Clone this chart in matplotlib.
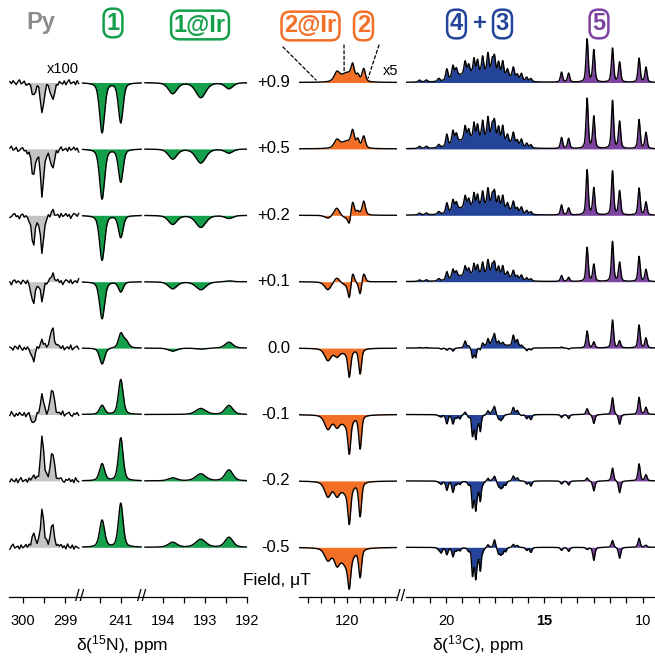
import numpy as np
import matplotlib
matplotlib.use('Agg')
import matplotlib.pyplot as plt

plt.rcParams['font.family'] = ['Liberation Sans', 'DejaVu Sans']
plt.rcParams['mathtext.fontset'] = 'custom'
plt.rcParams['mathtext.rm'] = 'Liberation Sans'

W, H = 655, 658

fields = ['+0.9', '+0.5', '+0.2', '+0.1', '0.0', '-0.1', '-0.2', '-0.5']

# ---- 15N: free pyridine (x100) ----
py_ppm = [299.75, 299.54, 299.30]
py_w = [0.10, 0.09, 0.10]
py_amp = [[-12, -31, -18],
          [-27, -47, -20],
          [-30, -37, 4],
          [-22, -18, 8],
          [-13, 8, 21],
          [-10, 19, 26],
          [3, 43, 29],
          [12, 38, 22]]
py_noise = [1, -1, 2, 0, -2, 1, 3, -1, 0, 2, -2, -1, 1, 2, -1, 0, -3, 1, 2, -1,
            1, 0, -2, 2, 1, -1, 3, 0, -2, 1, -1, 2, 0, -1, 2, -2, 1, 3, -1, 0,
            1, -2, 2, -1, 0, 2, -1, 1, -3, 0, 2, 1, -1, 2, -2, 0, 1, -1, 3, -2,
            0, 1, 2, -1, -2, 1, 0, 2, -1, 1, -2, 3, 0, -1, 2, -2, 1, 0, -1, 2]

# ---- 15N: 1 and 1@Ir ----
n1_ppm = [241.44, 241.00, 240.88, 193.77, 193.10, 192.43]
n1_w = [0.14, 0.13, 0.15, 0.24, 0.28, 0.22]
n1_amp = [[-50, -40, 0, -11, -15, -6],
          [-50, -33, 0, -10, -14, -4],
          [-45, -22, 0, -9, -12, -3],
          [-37, -10, 0, -7, -8, 1],
          [-16, 14, 7, -3, -1, 6],
          [9, 35, 0, 0, 6, 9],
          [17, 43, 0, 3, 7, 11],
          [27, 44, 0, 5, 8, 10]]

# ---- 13C: 2 / 2@Ir (x5) ----
c2_ppm = [120.73, 120.38, 120.00, 119.90, 119.77, 119.57, 119.48, 119.34]
c2_w = [0.30, 0.25, 0.50, 0.13, 0.15, 0.14, 0.13, 0.15]
c2_amp = [[0, 9, 9, 0, 14, 6, 0, 13],
          [0, 8, 7, 0, 15, 8, 0, 12],
          [-3, 8, -3, -8, 15, 4, 0, 14],
          [-8, 5, -3, -15, 11, 0, -13, 9],
          [-12, -7, -4, -25, 0, 0, -25, 0],
          [-14, -10, -9, -31, 0, 0, -33, 0],
          [-15, -12, -11, -33, 0, 0, -34, 0],
          [-12, -14, -17, -26, 0, 0, -28, 0]]

# ---- 13C: 4 + 3 (aliphatic multiplets) ----
c43_ppm = [21.35, 21.00, 20.37, 20.25, 19.96, 19.65, 19.48, 19.30, 19.03, 18.85,
           18.66, 18.58, 18.49, 18.40, 18.26, 18.14, 17.87, 17.65, 17.54, 17.33,
           17.22, 17.12, 16.97, 16.88, 16.58, 16.38, 16.17, 15.90, 15.69,
           19.3, 18.5, 17.7, 16.9]
c43_w = [0.15, 0.15, 0.15, 0.13, 0.13, 0.13, 0.13, 0.13, 0.13, 0.13,
         0.10, 0.11, 0.10, 0.11, 0.11, 0.12, 0.12, 0.12, 0.12, 0.12,
         0.12, 0.12, 0.12, 0.12, 0.13, 0.13, 0.13, 0.13, 0.13,
         1.0, 1.0, 1.0, 1.0]
c43_pos = [2, 2, 3, 0, 11, 12, 8, 0, 13, 9,
           0, 14, 0, 12, 0, 16, 19, 12, 16, 12,
           0, 14, 0, 7, 11, 5, 7, 4, 3,
           5, 7, 7, 4]
c43_scale = [1.0, 1.08, 0.92, 0.74]
c43_mix = [[0.5, 0.5, 0, -1, -2, -3, 0, 0, 7, 2, -9, -4, -9, 0, -3, 4, 7, 5, 11, 4,
            0, 3, 0, 0, 11, 7, 2, -3, -2, 0, 0, 2, 2],
           [0, 0, -1, -2, -9, -9, -3, -4, 3, -2, -19, -7, -21, -7, -16, 0, 4, 3, 8, -4,
            -5, -3, 0, 0, 7, 4, -1, -4, -5, 0, 0, 0, 0],
           [0, 0, -1, -3, -9, -11, -3, -3, 0, -3, -23, -9, -25, -9, -19, -2, 3, 1, 5, -5,
            -6, -5, -4, 0, 5, 3, 0, -3, -5, 0, 0, 0, 0],
           [0, 0, -2, -5, -7, -9, -3, -3, 0, -3, -25, -9, -27, -9, -22, -3, 3, 0, 8, -6,
            -6, -5, -4, 0, 3, 2, 0, -3, -5, 0, 0, 0, 0]]

# ---- 13C: 5 ----
c5_ppm = [14.13, 13.77, 12.83, 12.49, 11.54, 11.18, 10.19, 9.84]
c5_w = [0.13] * 8
c5_amp = [[10, 9, 43, 32, 34, 20, 24, 15],
          [11, 10, 50, 32, 48, 27, 29, 16],
          [10, 7, 45, 27, 44, 24, 27, 13],
          [6, 4, 34, 17, 40, 19, 25, 12],
          [1, -1, 17, 6, 28, 7, 23, 10],
          [-3, -4, 6, -9, 17, -10, 17, 7],
          [-3, -4, 3, -10, 13, -12, 17, 6],
          [-3, -4, -2, -13, 7, -11, 9, 2]]

GRAY = '#c4c4c4'
GREEN = '#14a04a'
ORANGE = '#f36f26'
BLUE = '#24449a'
PURPLE = '#7c43a0'


def lineshape(x, pos, fwhm, amp, eta=0.5):
    y = np.zeros_like(x)
    for c, w, a in zip(pos, fwhm, amp):
        d = (x - c) / (w / 2)
        y += a * (eta / (1 + d ** 2) + (1 - eta) * np.exp(-np.log(2) * d ** 2))
    return y


fig = plt.figure(figsize=(W / 100, H / 100), dpi=100)
TOP, AXIS_Y = 20, 596.5
ROW0, GAP = 82.5, 66.4


def panel(x0, x1, xlim, major, minor, labels=None):
    ax = fig.add_axes([x0 / W, 1 - AXIS_Y / H, (x1 - x0) / W, (AXIS_Y - TOP) / H])
    ax.set_xlim(*xlim)
    ax.set_ylim(AXIS_Y, TOP)
    ax.patch.set_visible(False)
    for s in ['top', 'left', 'right']:
        ax.spines[s].set_visible(False)
    ax.spines['bottom'].set_linewidth(0.9)
    ax.set_yticks([])
    ax.set_xticks(major, labels if labels else [str(m) for m in major])
    ax.set_xticks(minor, minor=True)
    ax.tick_params(axis='x', which='both', direction='out', length=4.5, width=0.9,
                   pad=8, labelsize=10.5)
    return ax


def draw(ax, x, sig, base, color, where=None):
    yy = base - sig
    ax.fill_between(x, base, yy, where=where, color=color, lw=0, interpolate=True)
    ax.plot(x, yy, color='k', lw=1.0)


ax_py = panel(9, 80, (300.32, 298.65), [300, 299], [299.5])
ax_n1 = panel(80, 142, (241.96, 240.50), [241], [241.5])
ax_ir = panel(142, 247, (194.5, 192.0), [194, 193, 192], [193.5, 192.5])
ax_c2 = panel(299, 397, (121.85, 118.05), [120], [121.5, 121, 120.5, 119.5, 119, 118.5])
c_minor = [21.667, 20.833] + list(np.linspace(20, 15, 7)[1:-1]) + list(np.linspace(15, 10, 7)[1:-1])
ax_c = panel(405.7, 655, (22.05, 9.38), [20, 15, 10], c_minor)
ax_c.get_xticklabels()[1].set_fontweight('bold')

x_py = np.linspace(300.30, 298.68, 44)
x_n1 = np.linspace(241.90, 240.52, 400)
x_ir = np.linspace(194.43, 192.0, 600)
x_c2 = np.linspace(121.85, 118.05, 800)
x_c = np.linspace(22.0, 9.38, 2500)

for i, f in enumerate(fields):
    base = ROW0 + GAP * i
    s = lineshape(x_py, py_ppm, py_w, py_amp[i]) + np.array(py_noise[5 * i:5 * i + 44])
    draw(ax_py, x_py, s, base, GRAY, where=(x_py < 299.95) & (x_py > 299.12))
    draw(ax_n1, x_n1, lineshape(x_n1, n1_ppm, n1_w, n1_amp[i], eta=0.4), base, GREEN)
    draw(ax_ir, x_ir, lineshape(x_ir, n1_ppm, n1_w, n1_amp[i], eta=0.4), base, GREEN)
    draw(ax_c2, x_c2, lineshape(x_c2, c2_ppm, c2_w, c2_amp[i]), base, ORANGE)
    if i < 4:
        amp43 = [a * c43_scale[i] for a in c43_pos]
    else:
        amp43 = c43_mix[i - 4]
    sc = lineshape(x_c, c43_ppm, c43_w, amp43) + lineshape(x_c, c5_ppm, c5_w, c5_amp[i])
    yy = base - sc
    ax_c.fill_between(x_c, base, yy, where=x_c >= 15.3, color=BLUE, lw=0, interpolate=True)
    ax_c.fill_between(x_c, base, yy, where=x_c <= 15.3, color=PURPLE, lw=0, interpolate=True)
    ax_c.plot(x_c, yy, color='k', lw=1.0)
    fig.text(290 / W, 1 - base / H, f, ha='right', va='center', fontsize=12)


def tag(x, y, s, color, box=True):
    kw = dict(ha='center', va='center', fontsize=17, fontweight='bold', color=color)
    if box:
        kw['bbox'] = dict(boxstyle='round,pad=0.12,rounding_size=0.35', fc='white',
                          ec=color, lw=1.8)
    fig.text(x / W, 1 - y / H, s, **kw)


tag(41, 23, 'Py', '#8c8c8c', box=False)
tag(113, 23, '1', GREEN)
tag(200, 25, '1@Ir', GREEN)
tag(310.5, 26, '2@Ir', ORANGE)
tag(363.5, 26, '2', ORANGE)
tag(456.5, 24, '4', BLUE)
tag(480, 23, '+', BLUE, box=False)
tag(502.5, 24, '3', BLUE)
tag(599, 24, '5', PURPLE)

fig.text(63 / W, 1 - 69 / H, 'x100', ha='center', va='center', fontsize=10.5)
fig.text(391 / W, 1 - 71 / H, 'x5', ha='center', va='center', fontsize=10.5)

# dashed leaders from the 2@Ir / 2 labels to the spectrum
for (tx, ty), (ppm, yv) in [((283, 47), (121.19, 80)), ((344, 45), (120.1, 72)),
                            ((379, 45), (119.17, 78))]:
    ax_c2.annotate('', xy=(ppm, yv), xycoords='data', xytext=(tx, H - ty),
                   textcoords='figure pixels', annotation_clip=False,
                   arrowprops=dict(arrowstyle='-', ls=(0, (2.5, 2)), lw=0.9, color='k',
                                   shrinkA=0, shrinkB=0))

for bx in [80, 142, 401]:
    fig.text(bx / W, 1 - AXIS_Y / H, '//', ha='center', va='center', fontsize=12)

fig.text(277 / W, 1 - 581 / H, 'Field, μT', ha='center', va='center', fontsize=12.5)
fig.text(122 / W, 1 - 645 / H, r'δ($\mathregular{^{15}}$N), ppm', ha='center', va='center', fontsize=12.5)
fig.text(478 / W, 1 - 645 / H, r'δ($\mathregular{^{13}}$C), ppm', ha='center', va='center', fontsize=12.5)

fig.savefig('out.png', dpi=100)
